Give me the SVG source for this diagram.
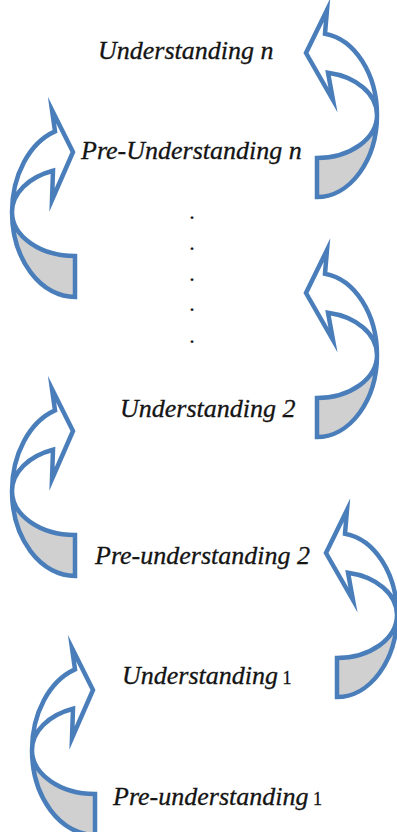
<svg xmlns="http://www.w3.org/2000/svg" xmlns:xlink="http://www.w3.org/1999/xlink" width="397" height="832" viewBox="0 0 397 832">
  <style>
    .lbl { font-family: "Liberation Serif", "DejaVu Serif", serif; font-style: italic; font-size: 26px; fill: #141414; stroke: #141414; stroke-width: 0.3; }
    .num { font-style: normal; font-size: 18px; }
    .dot { font-family: "Liberation Serif", serif; font-size: 24px; fill: #141414; text-anchor: middle; }
    .band { stroke: #4a7ebb; stroke-width: 4.5; stroke-linejoin: miter; stroke-miterlimit: 10; }
    .back { fill: #d0d0d0; }
    .front { fill: #ffffff; }
  </style>
  <defs>
    <!-- curved arrow bending on the left, head pointing right (origin = ellipse centre) -->
    <g id="curve-right">
      <path class="band back" d="M -63 0 A 63 85 0 0 0 0 85 L 0 44 A 63 44 0 0 1 -63 0 Z"/>
      <path class="band front" d="M -63 0 A 63 85 0 0 1 -20 -80.6 L -23 -102 L -2 -60 L -23 -12 L -22 -41.2 A 63 44 0 0 0 -63 0 Z"/>
    </g>
    <!-- curved arrow bending on the right, head pointing left -->
    <g id="curve-left">
      <path class="band back" d="M 60 0 A 60 82 0 0 1 0 82 L 0 43 A 60 43 0 0 0 60 0 Z"/>
      <path class="band front" d="M 60 0 A 60 82 0 0 0 8 -81.3 L 10 -105 L -11 -62 L 16 -15 L 11 -42.3 A 60 43 0 0 1 60 0 Z"/>
    </g>
  </defs>

  <rect width="397" height="832" fill="#ffffff"/>

  <g id="connectors">
    <use xlink:href="#curve-left" href="#curve-left" transform="translate(317,115)"/>
    <use xlink:href="#curve-right" href="#curve-right" transform="translate(75,212)"/>
    <use xlink:href="#curve-left" href="#curve-left" transform="translate(317,355)"/>
    <use xlink:href="#curve-right" href="#curve-right" transform="translate(75,491)"/>
    <use xlink:href="#curve-left" href="#curve-left" transform="translate(337,615)"/>
    <use xlink:href="#curve-right" href="#curve-right" transform="translate(95,750)"/>
  </g>

  <g id="understanding-n">
    <text class="lbl" x="98" y="59">Understanding n</text>
  </g>
  <g id="pre-understanding-n">
    <text class="lbl" x="81" y="159">Pre-Understanding n</text>
  </g>
  <g id="ellipsis">
    <text class="dot" x="192" y="219">.</text>
    <text class="dot" x="192" y="250">.</text>
    <text class="dot" x="192" y="281">.</text>
    <text class="dot" x="192" y="311">.</text>
    <text class="dot" x="192" y="343">.</text>
  </g>
  <g id="understanding-2">
    <text class="lbl" x="120" y="417">Understanding 2</text>
  </g>
  <g id="pre-understanding-2">
    <text class="lbl" x="95" y="564">Pre-understanding 2</text>
  </g>
  <g id="understanding-1">
    <text class="lbl" x="122" y="684">Understanding<tspan class="num"> 1</tspan></text>
  </g>
  <g id="pre-understanding-1">
    <text class="lbl" x="113" y="805">Pre-understanding<tspan class="num"> 1</tspan></text>
  </g>
</svg>
